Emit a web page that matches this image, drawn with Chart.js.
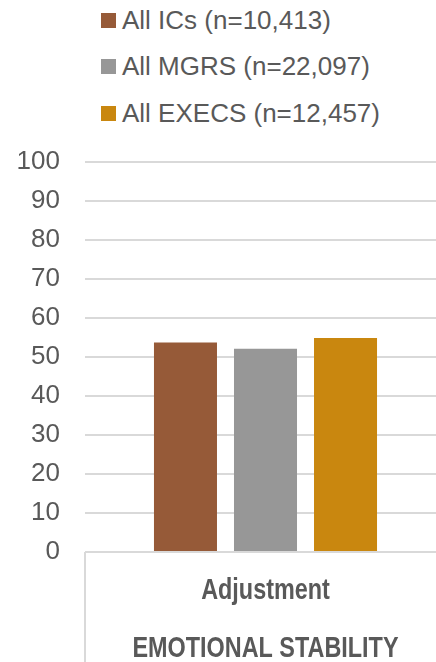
<!DOCTYPE html>
<html>
<head>
<meta charset="utf-8">
<script src="https://cdn.jsdelivr.net/npm/chart.js@4/dist/chart.umd.min.js"></script>
<style>
    html, body { margin: 0; padding: 0; background: #fff; width: 436px; height: 662px; overflow: hidden; }
    #wrap { position: relative; width: 436px; height: 662px; overflow: hidden; }
    #chart { position: absolute; left: 0; top: 0; }
    #legend { position: absolute; left: 101px; top: -3px; font-family: "Liberation Sans", Arial, sans-serif; font-size: 26px; color: #595959; }
    #legend .item { display: flex; align-items: center; height: 46.5px; white-space: nowrap; }
    #legend .box { width: 15px; height: 15px; margin-right: 6px; }
</style>
</head>
<body>
<div id="wrap">
    <div id="legend"></div>
    <canvas id="chart" width="446" height="688"></canvas>
</div>
<script>
// Data
const categories = ['Adjustment'];
const groupLabel = 'EMOTIONAL STABILITY';
const seriesNames = ['All ICs (n=10,413)', 'All MGRS (n=22,097)', 'All EXECS (n=12,457)'];
const icValues = [53.7];
const mgrValues = [52.1];
const execValues = [54.9];
const seriesColors = ['#965A38', '#979797', '#C9870F'];
const yTicks = [0, 10, 20, 30, 40, 50, 60, 70, 80, 90, 100];

const textColor = '#595959';
const lineColor = '#D9D9D9';
const catLineHeight = 58;

// Divider under the axis at the group's left edge, plus condensed category labels
const categoryAxis = {
    id: 'categoryAxis',
    afterDraw(chart) {
        const { ctx, chartArea } = chart;
        const xs = chart.scales.x;
        ctx.save();
        ctx.strokeStyle = lineColor;
        ctx.lineWidth = 2;
        ctx.beginPath();
        ctx.moveTo(chartArea.left, chartArea.bottom);
        ctx.lineTo(chartArea.left, chart.height);
        ctx.stroke();

        ctx.fillStyle = textColor;
        ctx.font = 'bold 30px "Liberation Sans", Arial, sans-serif';
        ctx.textAlign = 'center';
        ctx.textBaseline = 'middle';
        const top = xs.top + xs.options.ticks.padding + catLineHeight / 2;
        chart.data.labels.forEach((lines, i) => {
            const x = xs.getPixelForTick(i);
            lines.forEach((line, j) => {
                ctx.save();
                ctx.translate(x, top + j * catLineHeight);
                ctx.scale(0.78, 1);
                ctx.fillText(line, 0, 0);
                ctx.restore();
            });
        });
        ctx.restore();
    }
};

const seriesValues = [icValues, mgrValues, execValues];

const chart = new Chart(document.getElementById('chart'), {
    type: 'bar',
    data: {
        labels: categories.map(c => [c, groupLabel]),
        datasets: seriesNames.map((name, i) => ({
            label: name,
            data: seriesValues[i],
            backgroundColor: seriesColors[i],
            categoryPercentage: 0.665,
            barPercentage: 0.7875
        }))
    },
    options: {
        responsive: false,
        animation: false,
        layout: { padding: { top: 162, left: 0, right: 0, bottom: 0 } },
        plugins: {
            legend: { display: false },
            tooltip: { enabled: false }
        },
        scales: {
            x: {
                grid: { display: false, drawTicks: false },
                border: { display: false },
                ticks: {
                    // sized by the library, painted by categoryAxis
                    color: 'rgba(0,0,0,0)',
                    padding: 10,
                    maxRotation: 0,
                    autoSkip: false,
                    font: { family: '"Liberation Sans", Arial, sans-serif', size: 28, lineHeight: catLineHeight + 'px' }
                }
            },
            y: {
                min: 0,
                max: 100,
                afterBuildTicks: scale => { scale.ticks = yTicks.map(v => ({ value: v })); },
                afterFit: scale => { scale.width = 85; },
                grid: { color: lineColor, lineWidth: 2, drawTicks: false },
                border: { display: false },
                ticks: {
                    color: textColor,
                    padding: 25,
                    font: { family: '"Liberation Sans", Arial, sans-serif', size: 26 }
                }
            }
        }
    },
    plugins: [categoryAxis]
});

// Legend list built from the chart's datasets
const legendEl = document.getElementById('legend');
legendEl.innerHTML = chart.data.datasets.map(ds => `
    <div class="item"><span class="box" style="background:${ds.backgroundColor}"></span>${ds.label}</div>
`).join('');
</script>
</body>
</html>
